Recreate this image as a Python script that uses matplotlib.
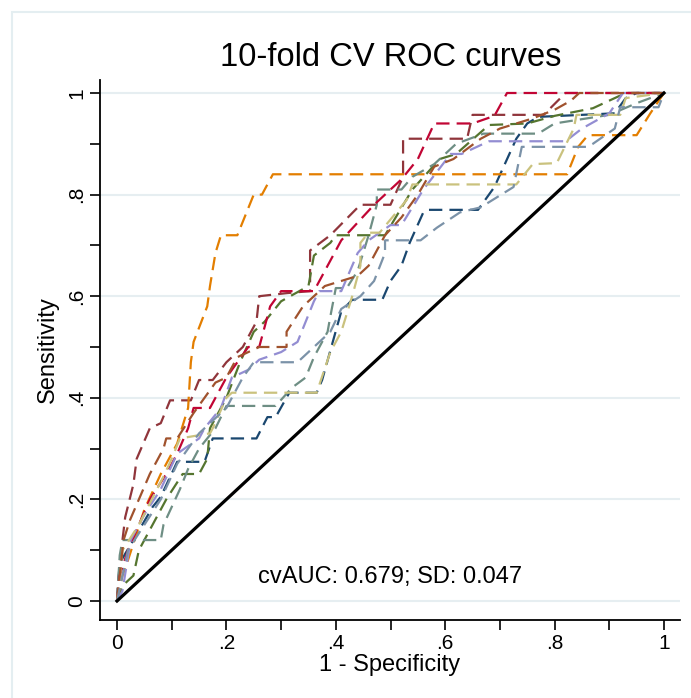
import numpy as np
import matplotlib.pyplot as plt
from matplotlib.patches import Rectangle

plt.rcParams['font.family'] = ['Liberation Sans', 'DejaVu Sans']

# ROC curves per fold: 1 - specificity (fpr) and sensitivity (tpr)
fpr_1 = [0, .002, .005, .03, .065, .08, .11, .16, .175, .255, .275, .29, .315, .365, .375, .41,
         .43, .485, .5, .52, .535, .56, .57, .66, .69, .73, .75, .77, .91, .93, .95, 1]
tpr_1 = [0, .035, .075, .12, .185, .205, .274, .274, .32, .32, .362, .362, .41, .41, .435, .57,
         .593, .593, .63, .66, .705, .765, .77, .77, .815, .91, .94, .953, .96, .99, 1, 1]

fpr_2 = [0, .005, .01, .015, .03, .036, .048, .06, .08, .097, .135, .15, .175, .2, .23, .255,
         .26, .31, .353, .353, .39, .445, .5, .523, .523, .64, .65, .78, .82, 1]
tpr_2 = [0, .07, .12, .165, .23, .28, .31, .34, .35, .395, .395, .435, .435, .47, .5, .55,
         .6, .606, .61, .69, .72, .78, .78, .835, .91, .91, .957, .957, 1, 1]

fpr_3 = [0, .01, .03, .04, .06, .09, .12, .15, .165, .17, .2, .225, .25, .27, .3, .35,
         .36, .39, .4, .49, .54, .59, .62, .68, .75, .8, .87, .91, .93, 1]
tpr_3 = [0, .03, .05, .1, .14, .2, .25, .25, .28, .34, .4, .47, .53, .55, .59, .62,
         .68, .705, .72, .72, .81, .87, .88, .937, .94, .955, .97, .99, 1, 1]

fpr_4 = [0, .01, .02, .05, .08, .11, .13, .135, .14, .165, .17, .18, .19, .22, .25, .265,
         .285, .823, .843, .861, .95, .975, 1]
tpr_4 = [0, .05, .08, .18, .25, .31, .38, .47, .51, .58, .62, .685, .72, .72, .80, .80,
         .84, .84, .894, .917, .917, .96, 1]

fpr_5 = [0, .005, .01, .048, .08, .085, .1, .115, .13, .15, .18, .2, .29, .32, .345, .36, .385,
         .39, .4, .42, .44, .46, .475, .475, .52, .54, .58, .62, .67, .77, .8, .9, .95, 1]
tpr_5 = [0, .09, .12, .12, .12, .15, .185, .22, .26, .3, .34, .384, .384, .42, .44, .48, .53,
         .56, .616, .616, .65, .72, .78, .81, .81, .835, .86, .9, .92, .92, .94, .957, .98, 1]

fpr_6 = [0, .005, .02, .04, .06, .09, .11, .13, .14, .17, .2, .24, .26, .28, .3, .36,
         .41, .47, .52, .55, .58, .65, .69, .713, 1]
tpr_6 = [0, .05, .1, .15, .2, .25, .29, .34, .38, .38, .44, .5, .5, .58, .61, .61,
         .71, .78, .83, .87, .94, .94, .955, 1, 1]

fpr_7 = [0, .01, .025, .05, .08, .11, .15, .16, .19, .21, .24, .26, .3, .33, .36, .37,
         .41, .44, .46, .5, .52, .56, .61, .63, .68, .82, .85, .9, .925, 1]
tpr_7 = [0, .02, .12, .17, .22, .29, .32, .34, .38, .44, .455, .475, .49, .51, .59, .61,
         .61, .685, .71, .74, .74, .81, .88, .88, .905, .905, .93, .96, 1, 1]

fpr_8 = [0, .005, .01, .04, .073, .085, .1, .115, .17, .175, .2, .21, .365, .39, .41, .43,
         .445, .445, .46, .48, .53, .54, .73, .76, .804, .835, .84, .92, .93, 1]
tpr_8 = [0, .04, .1, .15, .22, .245, .28, .32, .33, .34, .4, .41, .41, .49, .53, .6,
         .66, .705, .725, .725, .79, .82, .82, .86, .862, .93, .957, .957, .99, 1]

fpr_9 = [0, .005, .012, .024, .04, .06, .085, .09, .11, .14, .18, .2, .22, .26, .31, .31, .34,
         .38, .41, .44, .46, .49, .52, .55, .58, .615, .665, .7, .76, .8, .83, .845, 1]
tpr_9 = [0, .05, .12, .16, .2, .25, .3, .32, .32, .37, .43, .44, .48, .5, .5, .53, .58,
         .62, .63, .64, .66, .72, .755, .8, .855, .87, .91, .93, .95, .967, .985, 1, 1]

fpr_10 = [0, .01, .02, .05, .08, .11, .15, .2, .23, .25, .33, .36, .39, .41, .445, .47,
          .49, .49, .555, .585, .627, .665, .725, .74, .86, .87, .91, .92, .99, 1]
tpr_10 = [0, .05, .1, .15, .2, .27, .33, .38, .44, .47, .47, .5, .53, .575, .6, .63,
          .685, .71, .71, .735, .765, .775, .815, .894, .894, .9, .93, .972, .972, 1]

folds = [(fpr_1, tpr_1), (fpr_2, tpr_2), (fpr_3, tpr_3), (fpr_4, tpr_4), (fpr_5, tpr_5),
         (fpr_6, tpr_6), (fpr_7, tpr_7), (fpr_8, tpr_8), (fpr_9, tpr_9), (fpr_10, tpr_10)]

# Stata s2color palette
colors = ['#1a476f', '#90353b', '#55752f', '#e37e00', '#6e8e84',
          '#c10534', '#938dd2', '#cac27e', '#a0522d', '#7b92a8']

cv_auc = 0.679
cv_sd = 0.047

W, H = 691, 698
fig = plt.figure(figsize=(W / 100, H / 100), dpi=100)
ax = fig.add_axes([100 / W, 1 - 620 / H, 580 / W, 540 / H])

for (fx, ty), c in zip(folds, colors):
    line, = ax.plot(fx, ty, color=c, lw=1.6, ls='--')
    line.set_dashes([6, 3.2])

ax.plot([0, 1], [0, 1], color='black', lw=2.3)

ax.set_xlim(-17 / 547, 563 / 547)
ax.set_ylim(-19 / 508, 521 / 508)

for s in ['top', 'right']:
    ax.spines[s].set_visible(False)
for s in ['left', 'bottom']:
    ax.spines[s].set_linewidth(1.3)

major = [0, .2, .4, .6, .8, 1]
minor = [.1, .3, .5, .7, .9]
labels = ['0', '.2', '.4', '.6', '.8', '1']
ax.set_xticks(major)
ax.set_xticklabels(labels)
ax.set_yticks(major)
ax.set_yticklabels(labels)
ax.set_xticks(minor, minor=True)
ax.set_yticks(minor, minor=True)
ax.tick_params(which='both', direction='out', length=7, width=1.2, labelsize=15, pad=3)
ax.tick_params(axis='y', labelrotation=90)
for lab in ax.get_yticklabels():
    lab.set_va('center')

ax.yaxis.grid(True, which='major', color='#e6eef1', lw=1.5)
ax.set_axisbelow(True)

ax.set_xlabel('1 - Specificity', fontsize=17, labelpad=1)
ax.set_ylabel('Sensitivity', fontsize=17, labelpad=6)

ax.text(0.5, 0.047, 'cvAUC: %.3f; SD: %.3f' % (cv_auc, cv_sd),
        ha='center', va='center', fontsize=17)

fig.text(391 / W, 1 - 57 / H, '10-fold CV ROC curves', ha='center', va='center', fontsize=23.5)

fig.add_artist(Rectangle((12 / W, -0.05), 1.1, 1 - 12 / H + 0.05, transform=fig.transFigure,
                         fill=False, edgecolor='#e4eef1', lw=1.5))

fig.savefig('out.png', dpi=100)
